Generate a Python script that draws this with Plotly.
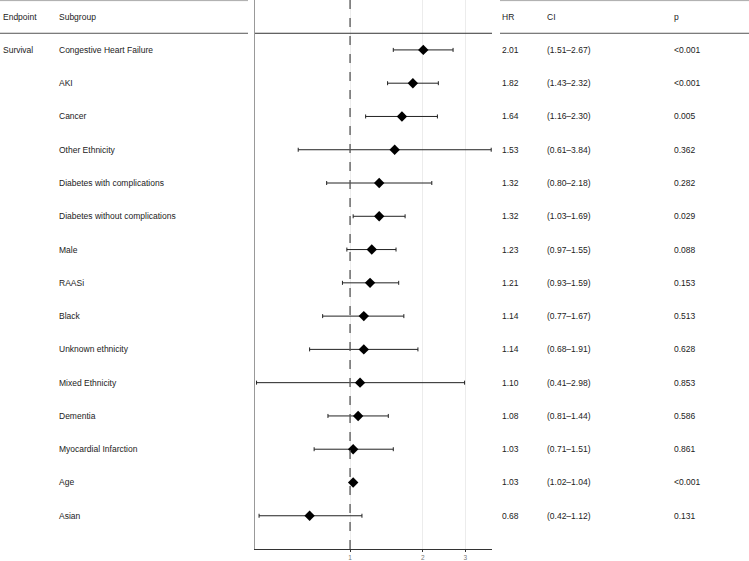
import plotly.graph_objects as go

endpoint = ["Survival"] + [""] * 14
subgroups = ["Congestive Heart Failure", "AKI", "Cancer", "Other Ethnicity",
             "Diabetes with complications", "Diabetes without complications",
             "Male", "RAASi", "Black", "Unknown ethnicity", "Mixed Ethnicity",
             "Dementia", "Myocardial Infarction", "Age", "Asian"]
hr = [2.01, 1.82, 1.64, 1.53, 1.32, 1.32, 1.23, 1.21, 1.14, 1.14, 1.10, 1.08, 1.03, 1.03, 0.68]
lo = [1.51, 1.43, 1.16, 0.61, 0.80, 1.03, 0.97, 0.93, 0.77, 0.68, 0.41, 0.81, 0.71, 1.02, 0.42]
hi = [2.67, 2.32, 2.30, 3.84, 2.18, 1.69, 1.55, 1.59, 1.67, 1.91, 2.98, 1.44, 1.51, 1.04, 1.12]
pvals = ["<0.001", "<0.001", "0.005", "0.362", "0.282", "0.029", "0.088", "0.153",
         "0.513", "0.628", "0.853", "0.586", "0.861", "<0.001", "0.131"]
x_ticks = [1, 2, 3]

rows = list(range(1, len(subgroups) + 1))
W, H = 749, 561
YMIN, YMAX = -0.5, 16.0
ydom = [10 / H, 1.0]


def ypaper(v):
    return ydom[0] + (ydom[1] - ydom[0]) * (YMAX - v) / (YMAX - YMIN)


fig = go.Figure()
fig.add_trace(go.Scatter(
    x=hr, y=rows, mode="markers",
    marker=dict(symbol="diamond", size=8, color="black"),
    error_x=dict(type="data", symmetric=False,
                 array=[h - m for h, m in zip(hi, hr)],
                 arrayminus=[m - l for m, l in zip(hr, lo)],
                 color="#222", thickness=1, width=2),
    cliponaxis=True, showlegend=False, hoverinfo="skip"))

shapes = []
# reference dashed line at HR = 1
shapes.append(dict(type="line", xref="x", yref="y", x0=1, x1=1, y0=YMIN, y1=YMAX,
                   line=dict(color="#555", width=1.3, dash="dash"), layer="above"))
# table lines
line_specs = [
    (0, 248, 1 - 0.6 / H, "#aaa"),
    (500, W, 1 - 0.6 / H, "#aaa"),
    (0, 248, ypaper(0.5), "#555"),
    (255, 492, ypaper(0.5), "#333"),
    (500, W, ypaper(0.5), "#555"),
]
for x0, x1, yp, col in line_specs:
    shapes.append(dict(type="line", xref="paper", yref="paper", x0=x0 / W, x1=x1 / W,
                       y0=yp, y1=yp, line=dict(color=col, width=1)))

annotations = []
font = dict(family="Liberation Sans, Arial, sans-serif", size=8.5, color="#222")
cols_x = {"Endpoint": 1, "Subgroup": 57, "HR": 500, "CI": 545, "p": 672}
for name, px in cols_x.items():
    annotations.append(dict(text=name, xref="paper", yref="y", x=px / W, y=0,
                            xanchor="left", yanchor="middle", showarrow=False, font=font))
for r, ep, sg, h, l, u, p in zip(rows, endpoint, subgroups, hr, lo, hi, pvals):
    vals = [ep, sg, f"{h:.2f}", f"({l:.2f}\u2013{u:.2f})", p]
    for v, px in zip(vals, cols_x.values()):
        if v:
            annotations.append(dict(text=v, xref="paper", yref="y", x=px / W, y=r,
                                    xanchor="left", yanchor="middle", showarrow=False,
                                    font=font))

fig.update_layout(
    width=W, height=H, margin=dict(l=0, r=0, t=0, b=0),
    paper_bgcolor="white", plot_bgcolor="white",
    shapes=shapes, annotations=annotations,
    xaxis=dict(type="log", domain=[255 / W, 492 / W], range=[-0.3936, 0.5877],
               tickvals=x_ticks, ticktext=[str(t) for t in x_ticks],
               showgrid=True, gridcolor="#ececec", gridwidth=1, zeroline=False,
               showline=True, linecolor="#333", linewidth=1,
               ticks="outside", ticklen=2, tickcolor="#333",
               tickfont=dict(family="Liberation Sans, Arial, sans-serif", size=6.5, color="#777")),
    yaxis=dict(domain=ydom, range=[YMAX, YMIN], showgrid=False, zeroline=False,
               showticklabels=False, showline=True, linecolor="#999", linewidth=1.5,
               ticks=""),
)

fig.write_html("out.html", config={"displayModeBar": False, "staticPlot": True},
               post_script="document.body.style.margin='0';document.body.style.overflow='hidden';")
